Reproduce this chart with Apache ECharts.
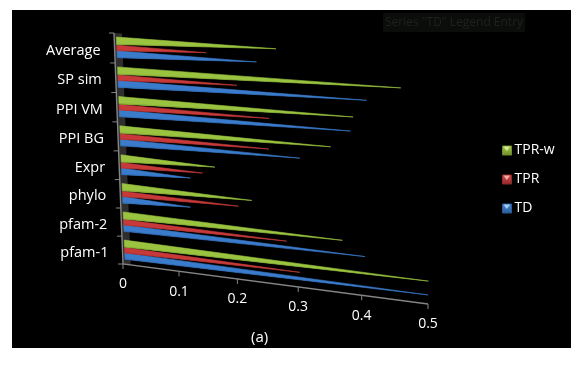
<!DOCTYPE html>
<html lang="en">
<head>
    <meta charset="UTF-8">
    <title>chart</title>
    <script src="https://cdn.jsdelivr.net/npm/echarts@6/dist/echarts.min.js"></script>
    <style>
        html, body { margin: 0; background: #fff; }
        #box { width: 587px; height: 366px; }
    </style>
</head>
<body>
    <div id="box"></div>
    <script>
        // bottom to top, same order as the category axis
        var categories = ['pfam-1', 'pfam-2', 'phylo', 'Expr', 'PPI BG', 'PPI VM', 'SP sim', 'Average'];
        var tdValues   = [0.500, 0.405, 0.123, 0.124, 0.304, 0.382, 0.406, 0.237];
        var tprValues  = [0.303, 0.282, 0.204, 0.145, 0.255, 0.256, 0.205, 0.156];
        var tprwValues = [0.500, 0.370, 0.226, 0.166, 0.352, 0.386, 0.456, 0.268];
        var valueTicks = [0, 0.1, 0.2, 0.3, 0.4, 0.5];

        var labelFont = '"Open Sans", sans-serif';

        // the picture is a tilted 3D pyramid bar chart, so grid pixels are pushed through a homography
        function warp(p, cs) {
            var s = (p[0] - cs.x) / cs.width;
            var v = 1 - (p[1] - cs.y) / cs.height;
            var w = 1 - 0.1 * s - 0.04 * v;
            return [
                (262.2 * s - 13.56 * v + 123) / w,
                (9.6 * s - 232.3 * v + 264) / w
            ];
        }

        function pyramid(bottom, top, color, dark) {
            var mid = (bottom + top) / 2;
            return function (params, api) {
                var cs = params.coordSys;
                var band = api.size([0, 1])[1];
                var y0 = api.coord([0, api.value(1)])[1] + band / 2; // lower edge of the band
                var x0 = api.coord([0.004, 0])[0];
                var tipX = api.coord([api.value(0), 0])[0];
                var lo = warp([x0, y0 - bottom * band], cs);
                var hi = warp([x0, y0 - top * band], cs);
                var sh = warp([x0, y0 - (bottom + (top - bottom) * 0.12) * band], cs);
                var tip = warp([tipX, y0 - mid * band], cs);
                return {
                    type: 'group',
                    children: [
                        // thin stroke keeps the needle tips visible, they vanish otherwise
                        { type: 'polygon', shape: { points: [hi, lo, tip] }, style: { fill: color, stroke: color, lineWidth: 0.6, lineJoin: 'round' } },
                        { type: 'polygon', shape: { points: [sh, lo, tip] }, style: { fill: dark } }
                    ]
                };
            };
        }

        function renderAxes(params, api) {
            var cs = params.coordSys;
            var band = api.size([0, 1])[1];
            var kids = [];
            var line = { stroke: '#858585', lineWidth: 1 };
            var bottom = cs.y + cs.height, top = cs.y;
            var x0 = api.coord([0, 0])[0];
            var xd = api.coord([0.014, 0])[0];
            var xEnd = api.coord([0.5, 0])[0];

            kids.push({ type: 'polygon', shape: { points: [warp([x0, top], cs), warp([xd, top], cs), warp([xd, bottom], cs), warp([x0, bottom], cs)] }, style: { fill: '#2e2e2e' } });

            var a = warp([x0, top], cs), b = warp([x0, bottom], cs), c = warp([xEnd, bottom], cs);
            kids.push({ type: 'polyline', shape: { points: [a, b, c] }, style: { stroke: line.stroke, lineWidth: 1.4, fill: null } });

            // category ticks and labels
            for (var i = 0; i <= categories.length; i++) {
                var yy = bottom - i * band;
                var t = warp([x0, yy], cs);
                kids.push({ type: 'line', shape: { x1: t[0] - 5, y1: t[1], x2: t[0], y2: t[1] }, style: line });
                if (i < categories.length) {
                    var m = warp([x0, yy - band / 2], cs);
                    kids.push({ type: 'text', style: { text: categories[i], x: m[0] - 14, y: m[1] + 2.5, align: 'right', verticalAlign: 'middle', fill: '#fff', font: '14.5px ' + labelFont } });
                }
            }
            // value ticks and labels
            valueTicks.forEach(function (tick) {
                var t = warp([api.coord([tick, 0])[0], bottom], cs);
                kids.push({ type: 'line', shape: { x1: t[0], y1: t[1], x2: t[0], y2: t[1] + 5 }, style: line });
                kids.push({ type: 'text', style: { text: String(tick), x: t[0], y: t[1] + 20.5, align: 'center', verticalAlign: 'middle', fill: '#fff', font: '14px ' + labelFont } });
            });
            return { type: 'group', children: kids };
        }

        function rows(values) {
            return values.map(function (v, i) { return [v, i]; });
        }

        function swatch(top, bottom) {
            return { color: new echarts.graphic.LinearGradient(0, 0, 0, 1, [{ offset: 0, color: top }, { offset: 1, color: bottom }]), borderColor: bottom, borderWidth: 1 };
        }

        function swatchMark(y, fill) {
            return { type: 'polygon', z: 20, shape: { points: [[503.5, y], [510, y], [506.8, y + 4.5]] }, style: { fill: fill } };
        }

        var myChart = echarts.init(document.getElementById('box'), null, { renderer: 'canvas' });
        myChart.setOption({
            animation: false,
            backgroundColor: '#fff',
            title: {
                text: '(a)', left: 246, top: 325,
                textStyle: { color: '#fff', fontFamily: labelFont, fontSize: 15, fontWeight: 'normal' }
            },
            grid: { left: 12, top: 10, width: 559, height: 338, show: true, backgroundColor: '#000', borderWidth: 0 },
            xAxis: { type: 'value', min: 0, max: 0.5, show: false },
            yAxis: { type: 'category', data: categories, show: false },
            legend: {
                orient: 'vertical', left: 502, top: 141, padding: 0, itemWidth: 9, itemHeight: 9, itemGap: 10,
                textStyle: { color: '#fff', fontFamily: labelFont, fontSize: 14, lineHeight: 19, padding: [0, 0, 0, -2] },
                data: [
                    { name: 'TPR-w', icon: 'rect', itemStyle: swatch('#a8cc4c', '#6f8c2a') },
                    { name: 'TPR', icon: 'rect', itemStyle: swatch('#d84c4c', '#8e2a2a') },
                    { name: 'TD', icon: 'rect', itemStyle: swatch('#4c8cd8', '#2a5a95') }
                ]
            },
            graphic: [
                {
                    type: 'group', z: 1,
                    children: [
                        { type: 'rect', shape: { x: 383, y: 13, width: 142, height: 19 }, style: { fill: '#0b0d0b' } },
                        { type: 'text', style: { text: 'Series "TD" Legend Entry', x: 454, y: 22.5, align: 'center', verticalAlign: 'middle', fill: '#1e211e', font: '12px ' + labelFont } }
                    ]
                },
                swatchMark(146.5, '#d8eb9c'),
                swatchMark(175.5, '#f2aaaa'),
                swatchMark(204.5, '#a8d0f4')
            ],
            series: [
                { type: 'custom', name: 'axes', silent: true, z: 1, data: [[0, 0]], renderItem: renderAxes },
                { type: 'custom', name: 'TD', z: 2, itemStyle: { color: '#3a7bcb' }, data: rows(tdValues), renderItem: pyramid(0.18, 0.41, '#3a7bcb', '#326fb8') },
                { type: 'custom', name: 'TPR', z: 3, itemStyle: { color: '#c83a3a' }, data: rows(tprValues), renderItem: pyramid(0.41, 0.60, '#c83a3a', '#b03232') },
                { type: 'custom', name: 'TPR-w', z: 4, itemStyle: { color: '#9ac43f' }, data: rows(tprwValues), renderItem: pyramid(0.62, 0.87, '#9ac43f', '#88ab38') }
            ]
        });
    </script>
</body>
</html>
